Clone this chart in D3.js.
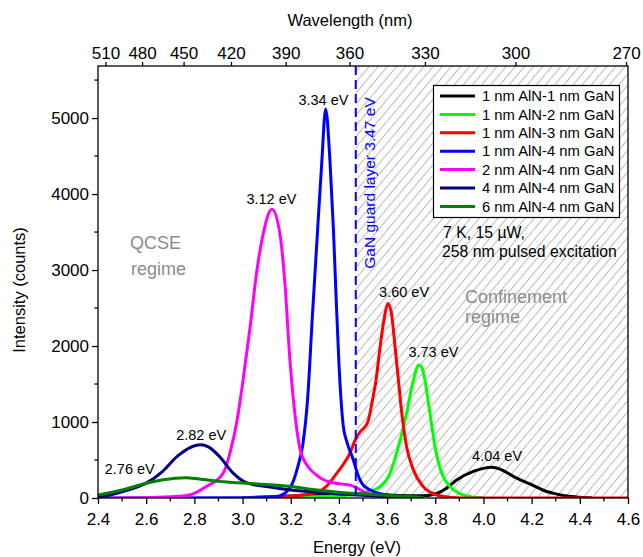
<!DOCTYPE html>
<html>
<head>
<meta charset="utf-8">
<script src="https://cdn.jsdelivr.net/npm/d3@7"></script>
<style>
  body { margin: 0; background: #fff; }
  svg { font-family: "Liberation Sans", Arial, sans-serif; }
</style>
</head>
<body>
<svg id="chart" width="643" height="557"></svg>
<script>
// ticks
const energyTicks = [2.4, 2.6, 2.8, 3.0, 3.2, 3.4, 3.6, 3.8, 4.0, 4.2, 4.4, 4.6];
const energyMinor = [2.5, 2.7, 2.9, 3.1, 3.3, 3.5, 3.7, 3.9, 4.1, 4.3, 4.5];
const countTicks = [0, 1000, 2000, 3000, 4000, 5000];
const countMinor = [500, 1500, 2500, 3500, 4500, 5500];
const wavelengthTicks = [510, 480, 450, 420, 390, 360, 330, 300, 270];

const seriesNames = [
  '1 nm AlN-1 nm GaN', '1 nm AlN-2 nm GaN', '1 nm AlN-3 nm GaN', '1 nm AlN-4 nm GaN',
  '2 nm AlN-4 nm GaN', '4 nm AlN-4 nm GaN', '6 nm AlN-4 nm GaN'
];
const seriesColors = ['#000000', '#00ff00', '#ff0000', '#0000ff', '#ff00ff', '#000080', '#008000'];

// spectra (energy in eV, intensity in counts)
const aln1gan1Energy = [3.0, 3.2, 3.4, 3.5, 3.6, 3.7, 3.75, 3.806, 3.847, 3.889, 3.958, 4.0, 4.034, 4.08, 4.124, 4.16, 4.193, 4.262, 4.3, 4.345, 4.4, 4.45];
const aln1gan1Counts = [3, 25, 50, 50, 40, 30, 28, 60, 128, 237, 350, 390, 404, 365, 285, 230, 185, 85, 55, 26, 10, 3];

const aln1gan2Energy = [3.0, 3.2, 3.4, 3.47, 3.522, 3.571, 3.612, 3.647, 3.681, 3.709, 3.732, 3.745, 3.757, 3.778, 3.799, 3.827, 3.861, 3.9, 3.95, 4.0];
const aln1gan2Counts = [5, 12, 30, 50, 85, 150, 325, 675, 1115, 1550, 1750, 1710, 1550, 1115, 675, 325, 150, 60, 15, 2];

const aln1gan3Energy = [3.0, 3.1, 3.2, 3.3, 3.35, 3.39, 3.42, 3.446, 3.467, 3.488, 3.5, 3.52, 3.54, 3.554, 3.571, 3.59, 3.603, 3.617, 3.633, 3.647, 3.661, 3.681, 3.709, 3.75, 3.806, 3.87, 3.95, 4.6];
const aln1gan3Counts = [0, 8, 25, 65, 160, 320, 450, 590, 760, 870, 910, 1000, 1300, 1550, 1990, 2400, 2560, 2450, 1990, 1550, 1115, 675, 370, 150, 40, 8, 0, 0];

const aln1gan4Energy = [2.4, 3.0, 3.1, 3.15, 3.2, 3.23, 3.25, 3.27, 3.29, 3.312, 3.329, 3.345, 3.363, 3.377, 3.388, 3.4, 3.418, 3.435, 3.46, 3.476, 3.495, 3.53, 3.6, 3.7, 3.75];
const aln1gan4Counts = [0, 2, 10, 25, 150, 420, 700, 1300, 2400, 3550, 4425, 5120, 4425, 3550, 2670, 1780, 950, 720, 500, 330, 195, 105, 40, 15, 5];

const aln2gan4Energy = [2.4, 2.6, 2.7, 2.78, 2.85, 2.92, 2.95, 2.976, 3.0, 3.031, 3.059, 3.086, 3.122, 3.155, 3.176, 3.197, 3.218, 3.238, 3.26, 3.28, 3.308, 3.33, 3.376, 3.446, 3.47, 3.49, 3.54, 3.65, 3.75];
const aln2gan4Counts = [0, 3, 15, 40, 150, 330, 620, 1000, 1500, 2240, 2980, 3480, 3800, 3480, 2820, 1800, 1090, 650, 470, 380, 300, 250, 200, 170, 140, 105, 40, 15, 5];

const aln4gan4Energy = [2.4, 2.45, 2.5, 2.55, 2.6, 2.665, 2.73, 2.78, 2.825, 2.86, 2.906, 2.96, 3.02, 3.1, 3.2, 3.33, 3.475, 3.6, 3.75];
const aln4gan4Counts = [12, 40, 80, 130, 195, 340, 550, 660, 700, 670, 540, 330, 195, 150, 105, 70, 40, 20, 5];

const aln6gan4Energy = [2.4, 2.5, 2.6, 2.67, 2.765, 2.82, 2.92, 3.06, 3.2, 3.31, 3.42, 3.52, 3.65, 3.75];
const aln6gan4Counts = [40, 105, 195, 240, 267, 250, 215, 185, 150, 105, 70, 50, 25, 5];

const seriesEnergy = [aln1gan1Energy, aln1gan2Energy, aln1gan3Energy, aln1gan4Energy, aln2gan4Energy, aln4gan4Energy, aln6gan4Energy];
const seriesCounts = [aln1gan1Counts, aln1gan2Counts, aln1gan3Counts, aln1gan4Counts, aln2gan4Counts, aln4gan4Counts, aln6gan4Counts];

const peakLabels = ['4.04 eV', '3.73 eV', '3.60 eV', '3.34 eV', '3.12 eV', '2.82 eV', '2.76 eV'];
const peakEnergy = [4.04, 3.73, 3.60, 3.34, 3.12, 2.82, 2.76];
const peakCounts = [404, 1750, 2560, 5120, 3800, 700, 267];

const guardEnergy = 3.47;
const hcNm = 1239.84;

const W = 643, H = 557;
const margin = { top: 66, right: 15, bottom: 59, left: 98 };
const x = d3.scaleLinear().domain([2.4, 4.6]).range([margin.left, W - margin.right]);
const y = d3.scaleLinear().domain([0, 5685]).range([H - margin.bottom, margin.top]);
const plotTop = margin.top, plotBottom = H - margin.bottom;

const svg = d3.select('#chart');
const defs = svg.append('defs');

defs.append('clipPath').attr('id', 'clip')
  .append('rect')
  .attr('x', x(2.4)).attr('y', plotTop)
  .attr('width', x(4.6) - x(2.4)).attr('height', plotBottom - plotTop);

const hatch = defs.append('pattern')
  .attr('id', 'hatch')
  .attr('patternUnits', 'userSpaceOnUse')
  .attr('width', 7).attr('height', 7)
  .attr('patternTransform', 'rotate(40)');
hatch.append('line')
  .attr('x1', 3.5).attr('y1', 0).attr('x2', 3.5).attr('y2', 7)
  .attr('stroke', '#b3b3b3').attr('stroke-width', 0.9);

// confinement region
svg.append('rect')
  .attr('x', x(guardEnergy)).attr('y', plotTop)
  .attr('width', x(4.6) - x(guardEnergy)).attr('height', plotBottom - plotTop)
  .attr('fill', 'url(#hatch)');

// region labels
const gray = '#8c8c8c';
svg.append('text').attr('x', 130).attr('y', 249).attr('fill', gray).attr('font-size', 18).text('QCSE');
svg.append('text').attr('x', 131).attr('y', 275).attr('fill', gray).attr('font-size', 18).text('regime');
svg.append('text').attr('x', 465).attr('y', 303).attr('fill', gray).attr('font-size', 18).text('Confinement');
svg.append('text').attr('x', 465).attr('y', 323).attr('fill', gray).attr('font-size', 18).text('regime');

// spectra
const line = d3.line()
  .x((d) => x(d[0]))
  .y((d) => y(d[1]))
  .curve(d3.curveMonotoneX);

const plot = svg.append('g').attr('clip-path', 'url(#clip)');
seriesEnergy.forEach((energy, i) => {
  plot.append('path')
    .datum(d3.zip(energy, seriesCounts[i]))
    .attr('d', line)
    .attr('fill', 'none')
    .attr('stroke', seriesColors[i])
    .attr('stroke-width', 3)
    .attr('stroke-linejoin', 'round');
});

// GaN guard layer
svg.append('line')
  .attr('x1', x(guardEnergy)).attr('x2', x(guardEnergy))
  .attr('y1', plotTop).attr('y2', plotBottom)
  .attr('stroke', '#0000ff').attr('stroke-width', 2)
  .attr('stroke-dasharray', '9,5');
svg.append('text')
  .attr('transform', `translate(${x(guardEnergy) + 19},183) rotate(-90)`)
  .attr('text-anchor', 'middle')
  .attr('fill', '#0000ff')
  .attr('font-size', 15.5)
  .text('GaN guard layer 3.47 eV');

// peak labels
const labelOffset = [[4, -6], [15, -8], [17, -6], [-1, -4], [0, -5], [2, -5], [-55, -4]];
peakLabels.forEach((label, i) => {
  svg.append('text')
    .attr('x', x(peakEnergy[i]) + labelOffset[i][0])
    .attr('y', y(peakCounts[i]) + labelOffset[i][1])
    .attr('text-anchor', 'middle')
    .attr('font-size', 14.5)
    .text(label);
});

// legend
const legend = svg.append('g');
legend.append('rect')
  .attr('x', 433.5).attr('y', 85.5).attr('width', 186).attr('height', 132)
  .attr('fill', '#fff').attr('stroke', '#000').attr('stroke-width', 1.2);
seriesNames.forEach((name, i) => {
  const ly = 96 + i * 18.4;
  legend.append('line')
    .attr('x1', 440).attr('x2', 475).attr('y1', ly).attr('y2', ly)
    .attr('stroke', seriesColors[i]).attr('stroke-width', 3);
  legend.append('text')
    .attr('x', 482).attr('y', ly).attr('dy', '0.35em')
    .attr('font-size', 14.8)
    .text(name);
});
svg.append('text').attr('x', 443).attr('y', 238).attr('font-size', 15.8).text('7 K, 15 \u00b5W,');
svg.append('text').attr('x', 442).attr('y', 257).attr('font-size', 15.8).text('258 nm pulsed excitation');

// axes
const axisBottom = svg.append('g')
  .attr('transform', `translate(0,${plotBottom})`)
  .call(d3.axisBottom(x).tickValues(energyTicks).tickFormat(d3.format('.1f')).tickSize(6).tickPadding(9));
axisBottom.append('g').selectAll('line')
  .data(energyMinor).join('line')
  .attr('x1', (d) => x(d)).attr('x2', (d) => x(d))
  .attr('y1', 0).attr('y2', 3.5).attr('stroke', '#000');

const axisLeft = svg.append('g')
  .attr('transform', `translate(${x(2.4)},0)`)
  .call(d3.axisLeft(y).tickValues(countTicks).tickFormat(d3.format('d')).tickSize(6).tickPadding(3));
axisLeft.append('g').selectAll('line')
  .data(countMinor).join('line')
  .attr('y1', (d) => y(d)).attr('y2', (d) => y(d))
  .attr('x1', 0).attr('x2', -3.5).attr('stroke', '#000');

const axisTop = svg.append('g')
  .attr('transform', `translate(0,${plotTop})`)
  .call(d3.axisTop(x).tickValues(wavelengthTicks.map((w) => hcNm / w)).tickFormat((d) => Math.round(hcNm / d)).tickSize(4).tickPadding(3));

[axisBottom, axisLeft, axisTop].forEach((g) => {
  g.select('.domain').remove();
  g.selectAll('text').attr('font-size', 17).attr('font-family', '"Liberation Sans", Arial, sans-serif').attr('fill', '#000');
  g.selectAll('line').attr('stroke-width', 1.3);
});

// frame
svg.append('rect')
  .attr('x', x(2.4)).attr('y', plotTop)
  .attr('width', x(4.6) - x(2.4)).attr('height', plotBottom - plotTop)
  .attr('fill', 'none').attr('stroke', '#000').attr('stroke-width', 1.3);

// axis titles
svg.append('text').attr('x', 357).attr('y', 553).attr('text-anchor', 'middle').attr('font-size', 16.5).text('Energy (eV)');
svg.append('text').attr('x', 350).attr('y', 26).attr('text-anchor', 'middle').attr('font-size', 16.5).text('Wavelength (nm)');
svg.append('text')
  .attr('transform', 'translate(25,290) rotate(-90)')
  .attr('text-anchor', 'middle')
  .attr('font-size', 16.5)
  .text('Intensity (counts)');
</script>
</body>
</html>
